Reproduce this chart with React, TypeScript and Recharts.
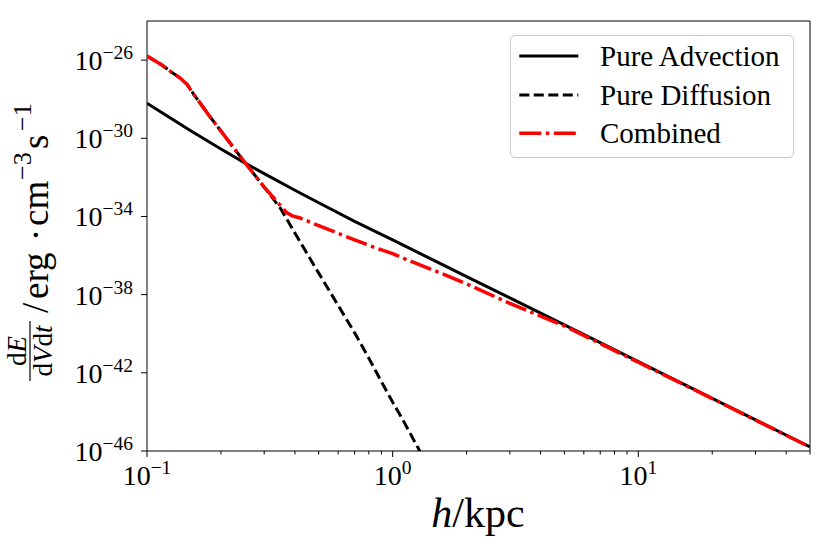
import { LineChart, Line, XAxis, YAxis, Legend, ReferenceArea } from "recharts"

// values: h in kpc, y as the power of ten of dE/dVdt
const advH = [0.1, 0.125, 0.15, 0.2, 0.25, 0.3, 0.4, 0.5, 0.7, 1, 1.5, 2, 3, 5, 7, 10, 15, 20, 30, 50]
const advExp = [-28.21, -28.98, -29.6, -30.55, -31.26, -31.81, -32.66, -33.3, -34.25, -35.2, -36.3, -37.08, -38.17, -39.55, -40.46, -41.43, -42.53, -43.31, -44.41, -45.79]

const diffH = [0.1, 0.115, 0.1265, 0.1368, 0.1455, 0.155, 0.178, 0.218, 0.255, 0.3, 0.35, 0.4, 0.5, 0.6, 0.7, 0.8, 0.9, 1, 1.1, 1.27, 1.4]
const diffExp = [-25.79, -26.25, -26.64, -26.93, -27.24, -27.75, -28.8, -30.25, -31.37, -32.5, -33.6, -34.85, -36.9, -38.55, -39.95, -41.25, -42.45, -43.5, -44.4, -45.85, -46.9]

const combH = [0.1, 0.115, 0.1265, 0.1368, 0.1455, 0.155, 0.178, 0.218, 0.255, 0.3, 0.35, 0.37, 0.39, 0.42, 0.5, 0.6, 0.7, 0.85, 1, 1.1, 1.5, 2, 3, 5, 7, 10, 20, 50]
const combExp = [-25.79, -26.25, -26.64, -26.93, -27.24, -27.75, -28.8, -30.25, -31.37, -32.5, -33.45, -33.8, -33.97, -34.08, -34.47, -34.86, -35.2, -35.6, -35.9, -36.13, -36.8, -37.45, -38.45, -39.6, -40.5, -41.46, -43.32, -45.8]

const xTicks = [0.1, 0.2, 0.3, 0.4, 0.5, 0.6, 0.7, 0.8, 0.9, 1, 2, 3, 4, 5, 6, 7, 8, 9, 10, 20, 30, 40, 50]
const yTicks = [1e-46, 1e-42, 1e-38, 1e-34, 1e-30, 1e-26]

const toPoints = (hs: number[], exps: number[]) => hs.map((h, i) => ({ h, v: Math.pow(10, exps[i]) }))

const SERIES = [
  { name: "Pure Advection", data: toPoints(advH, advExp), color: "#000000", dash: undefined, width: 3 },
  { name: "Pure Diffusion", data: toPoints(diffH, diffExp), color: "#000000", dash: "10 4.5", width: 3 },
  { name: "Combined", data: toPoints(combH, combExp), color: "#ff0000", dash: "22 4.5 3.5 4.5", width: 3.5 },
]

const FONT = "Liberation Serif, DejaVu Serif, serif"
const MINUS = "\u2212"

const expText = (n: number) => (n < 0 ? MINUS + Math.abs(n) : String(n))

const XTick = (props: any) => {
  const { x, y, payload } = props
  const lg = Math.log10(payload.value)
  const major = Math.abs(lg - Math.round(lg)) < 1e-6
  return (
    <g>
      <line x1={x} x2={x} y1={y} y2={y + (major ? 6 : 3.5)} stroke="#000" strokeWidth={1} />
      {major && (
        <text x={x} y={y + 34} textAnchor="middle" fontFamily={FONT} fontSize={28} fill="#000">
          10<tspan dy={-11} fontSize={19.5}>{expText(Math.round(lg))}</tspan>
        </text>
      )}
    </g>
  )
}

const YTick = (props: any) => {
  const { x, y, payload } = props
  const lg = Math.round(Math.log10(payload.value))
  return (
    <g>
      <line x1={x - 6} x2={x} y1={y} y2={y} stroke="#000" strokeWidth={1} />
      <text x={x - 14} y={y + 10} textAnchor="end" fontFamily={FONT} fontSize={28} fill="#000">
        10<tspan dy={-11} fontSize={19.5}>{expText(lg)}</tspan>
      </text>
    </g>
  )
}

const XLabel = () => (
  <text x={478} y={527} textAnchor="middle" fontFamily={FONT} fontSize={42} fill="#000">
    <tspan fontStyle="italic">h</tspan>/kpc
  </text>
)

const YLabel = () => (
  <g transform="translate(48,237) rotate(-90)" fontFamily={FONT} fill="#000">
    <text x={-114} y={-22} textAnchor="middle" fontSize={27}>
      d<tspan fontStyle="italic">E</tspan>
    </text>
    <line x1={-144} x2={-84} y1={-18} y2={-18} stroke="#000" strokeWidth={1.2} />
    <text x={-114} y={4} textAnchor="middle" fontSize={27}>
      d<tspan fontStyle="italic">V</tspan>d<tspan fontStyle="italic">t</tspan>
    </text>
    <text fontSize={37}>
      <tspan x={-76} y={0}>/</tspan>
      <tspan x={-62} y={0}>erg</tspan>
      <tspan x={-4} y={0}>·</tspan>
      <tspan x={11} y={0}>cm</tspan>
      <tspan x={57} y={-17} fontSize={26}>{MINUS}3</tspan>
      <tspan x={88} y={0}>s</tspan>
      <tspan x={106} y={-17} fontSize={26}>{MINUS}1</tspan>
    </text>
  </g>
)

const LegendBox = () => (
  <div
    style={{
      width: 284,
      height: 123,
      boxSizing: "border-box",
      border: "1.3px solid #c8c8c8",
      borderRadius: 5,
      background: "rgba(255,255,255,0.8)",
    }}
  >
    <svg width={282} height={121} style={{ display: "block" }}>
      {SERIES.map((s, i) => {
        const ly = [20, 59, 97.3][i]
        const ty = [30, 69, 107.3][i]
        return (
          <g key={s.name}>
            <line x1={8.3} x2={67.3} y1={ly} y2={ly} stroke={s.color} strokeWidth={s.width} strokeDasharray={s.dash} />
            <text x={89} y={ty} fontFamily={FONT} fontSize={29} fill="#000">
              {s.name}
            </text>
          </g>
        )
      })}
    </svg>
  </div>
)

const App = () => {
  return (
    <div style={{ position: "absolute", left: 0, top: 0, background: "#fff" }}>
      <LineChart width={830} height={551} margin={{ top: 21, right: 20, bottom: 0, left: 0 }}>
        <XAxis
          dataKey="h"
          type="number"
          scale="log"
          domain={[0.1, 50]}
          allowDataOverflow
          ticks={xTicks}
          interval={0}
          tick={<XTick />}
          tickLine={false}
          axisLine={false}
          tickSize={0}
          tickMargin={0}
          height={100}
          label={<XLabel />}
        />
        <YAxis
          dataKey="v"
          type="number"
          scale="log"
          domain={[1e-46, 1e-24]}
          allowDataOverflow
          ticks={yTicks}
          interval={0}
          tick={<YTick />}
          tickLine={false}
          axisLine={false}
          tickSize={0}
          tickMargin={0}
          width={147}
          label={<YLabel />}
        />
        {SERIES.map((s) => (
          <Line
            key={s.name}
            data={s.data}
            dataKey="v"
            name={s.name}
            type="linear"
            stroke={s.color}
            strokeWidth={s.width}
            strokeDasharray={s.dash}
            dot={false}
            activeDot={false}
            isAnimationActive={false}
          />
        ))}
        <ReferenceArea x1={0.1} x2={50} y1={1e-46} y2={1e-24} fill="none" stroke="#000" strokeWidth={1} ifOverflow="visible" />
        <Legend
          layout="vertical"
          align="center"
          verticalAlign="middle"
          wrapperStyle={{ left: 510, top: 35, width: 284, height: 123 }}
          content={() => <LegendBox />}
        />
      </LineChart>
    </div>
  )
}

export default App
